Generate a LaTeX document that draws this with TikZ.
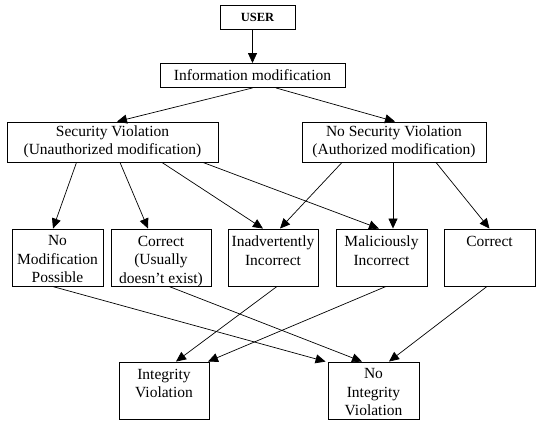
\documentclass[tikz,border=0pt]{standalone}
\usepackage{fontspec}
\setmainfont{Liberation Serif}
\usetikzlibrary{arrows.meta}
\tikzstyle{box} = [draw, line width=0.9pt, align=center, inner sep=0pt, font=\fontsize{15.5}{18.5}\selectfont]
\tikzstyle{arr} = [-{Triangle[length=10pt,width=9pt]}, line width=0.7pt]
\tikzset{leaf/.style={draw, line width=0.9pt, minimum height=57pt,
  label={[anchor=north, align=center, inner sep=3pt, yshift=-4pt, font=\fontsize{15.5}{18.5}\selectfont]north:#1}}}

\begin{document}
\begin{tikzpicture}[x=1pt,y=-1pt]
	\useasboundingbox (0,0) rectangle (542,426);
	% top of the tree
	\node[box, minimum width=75pt, minimum height=24pt, font=\bfseries\fontsize{12.5}{14}\selectfont] (user) at (257.5,17) {USER};
	\node[box, minimum width=185pt, minimum height=24pt] (info) at (252.5,75.5) {Information modification};
	\node[box, minimum width=211pt, minimum height=40pt] (sv) at (112.5,142) {Security Violation\\(Unauthorized modification)};
	\node[box, minimum width=184pt, minimum height=40pt] (nsv) at (394,142) {No Security Violation\\(Authorized modification)};
	% cases
	\node[leaf={No\\Modification\\Possible}, minimum width=91pt] (nomod) at (57.5,257.5) {};
	\node[leaf={Correct\\(Usually\\doesn't exist)}, minimum width=100pt] (cor1) at (161,257.5) {};
	\node[leaf={Inadvertently\\Incorrect}, minimum width=90pt] (inadv) at (273,257.5) {};
	\node[leaf={Maliciously\\Incorrect}, minimum width=91pt] (malic) at (381.5,257.5) {};
	\node[leaf={Correct}, minimum width=91pt] (cor2) at (489.5,257.5) {};
	% results
	\node[leaf={Integrity\\Violation}, minimum width=90pt] (iv) at (164,390.5) {};
	\node[leaf={No\\Integrity\\Violation}, minimum width=91pt] (niv) at (373.5,390.5) {};

	\draw[arr] (info.north |- user.south) -- (info.north);
	\draw[arr] (info.south) -- ([xshift=4.5pt]sv.north);
	\draw[arr] ([xshift=23.5pt]info.south) -- ([xshift=1pt]nsv.north);

	\draw[arr] ([xshift=-36pt]sv.south) -- ([xshift=-4.5pt]nomod.north);
	\draw[arr] ([xshift=7.5pt]sv.south) -- ([xshift=-13pt]cor1.north);
	\draw[arr] ([xshift=49.5pt]sv.south) -- ([xshift=-10pt]inadv.north);
	\draw[arr] ([xshift=90.5pt]sv.south) -- ([xshift=-2.5pt]malic.north);
	\draw[arr] ([xshift=-52pt]nsv.south) -- ([xshift=7pt]inadv.north);
	\draw[arr] ([xshift=-1pt]nsv.south) -- ([xshift=11.5pt]malic.north);
	\draw[arr] ([xshift=42pt]nsv.south) -- (cor2.north);

	\draw[arr] ([xshift=-5pt]nomod.south) -- ([xshift=-2pt]niv.north west);
	\draw[arr] ([xshift=8pt]cor1.south) -- ([xshift=-11.5pt]niv.north);
	\draw[arr] ([xshift=4pt]inadv.south) -- ([xshift=12pt]iv.north);
	\draw[arr] ([xshift=4.5pt]malic.south) -- ([xshift=44pt]iv.north);
	\draw[arr] ([xshift=-2.5pt]cor2.south) -- ([xshift=15.5pt]niv.north);
\end{tikzpicture}
\end{document}
